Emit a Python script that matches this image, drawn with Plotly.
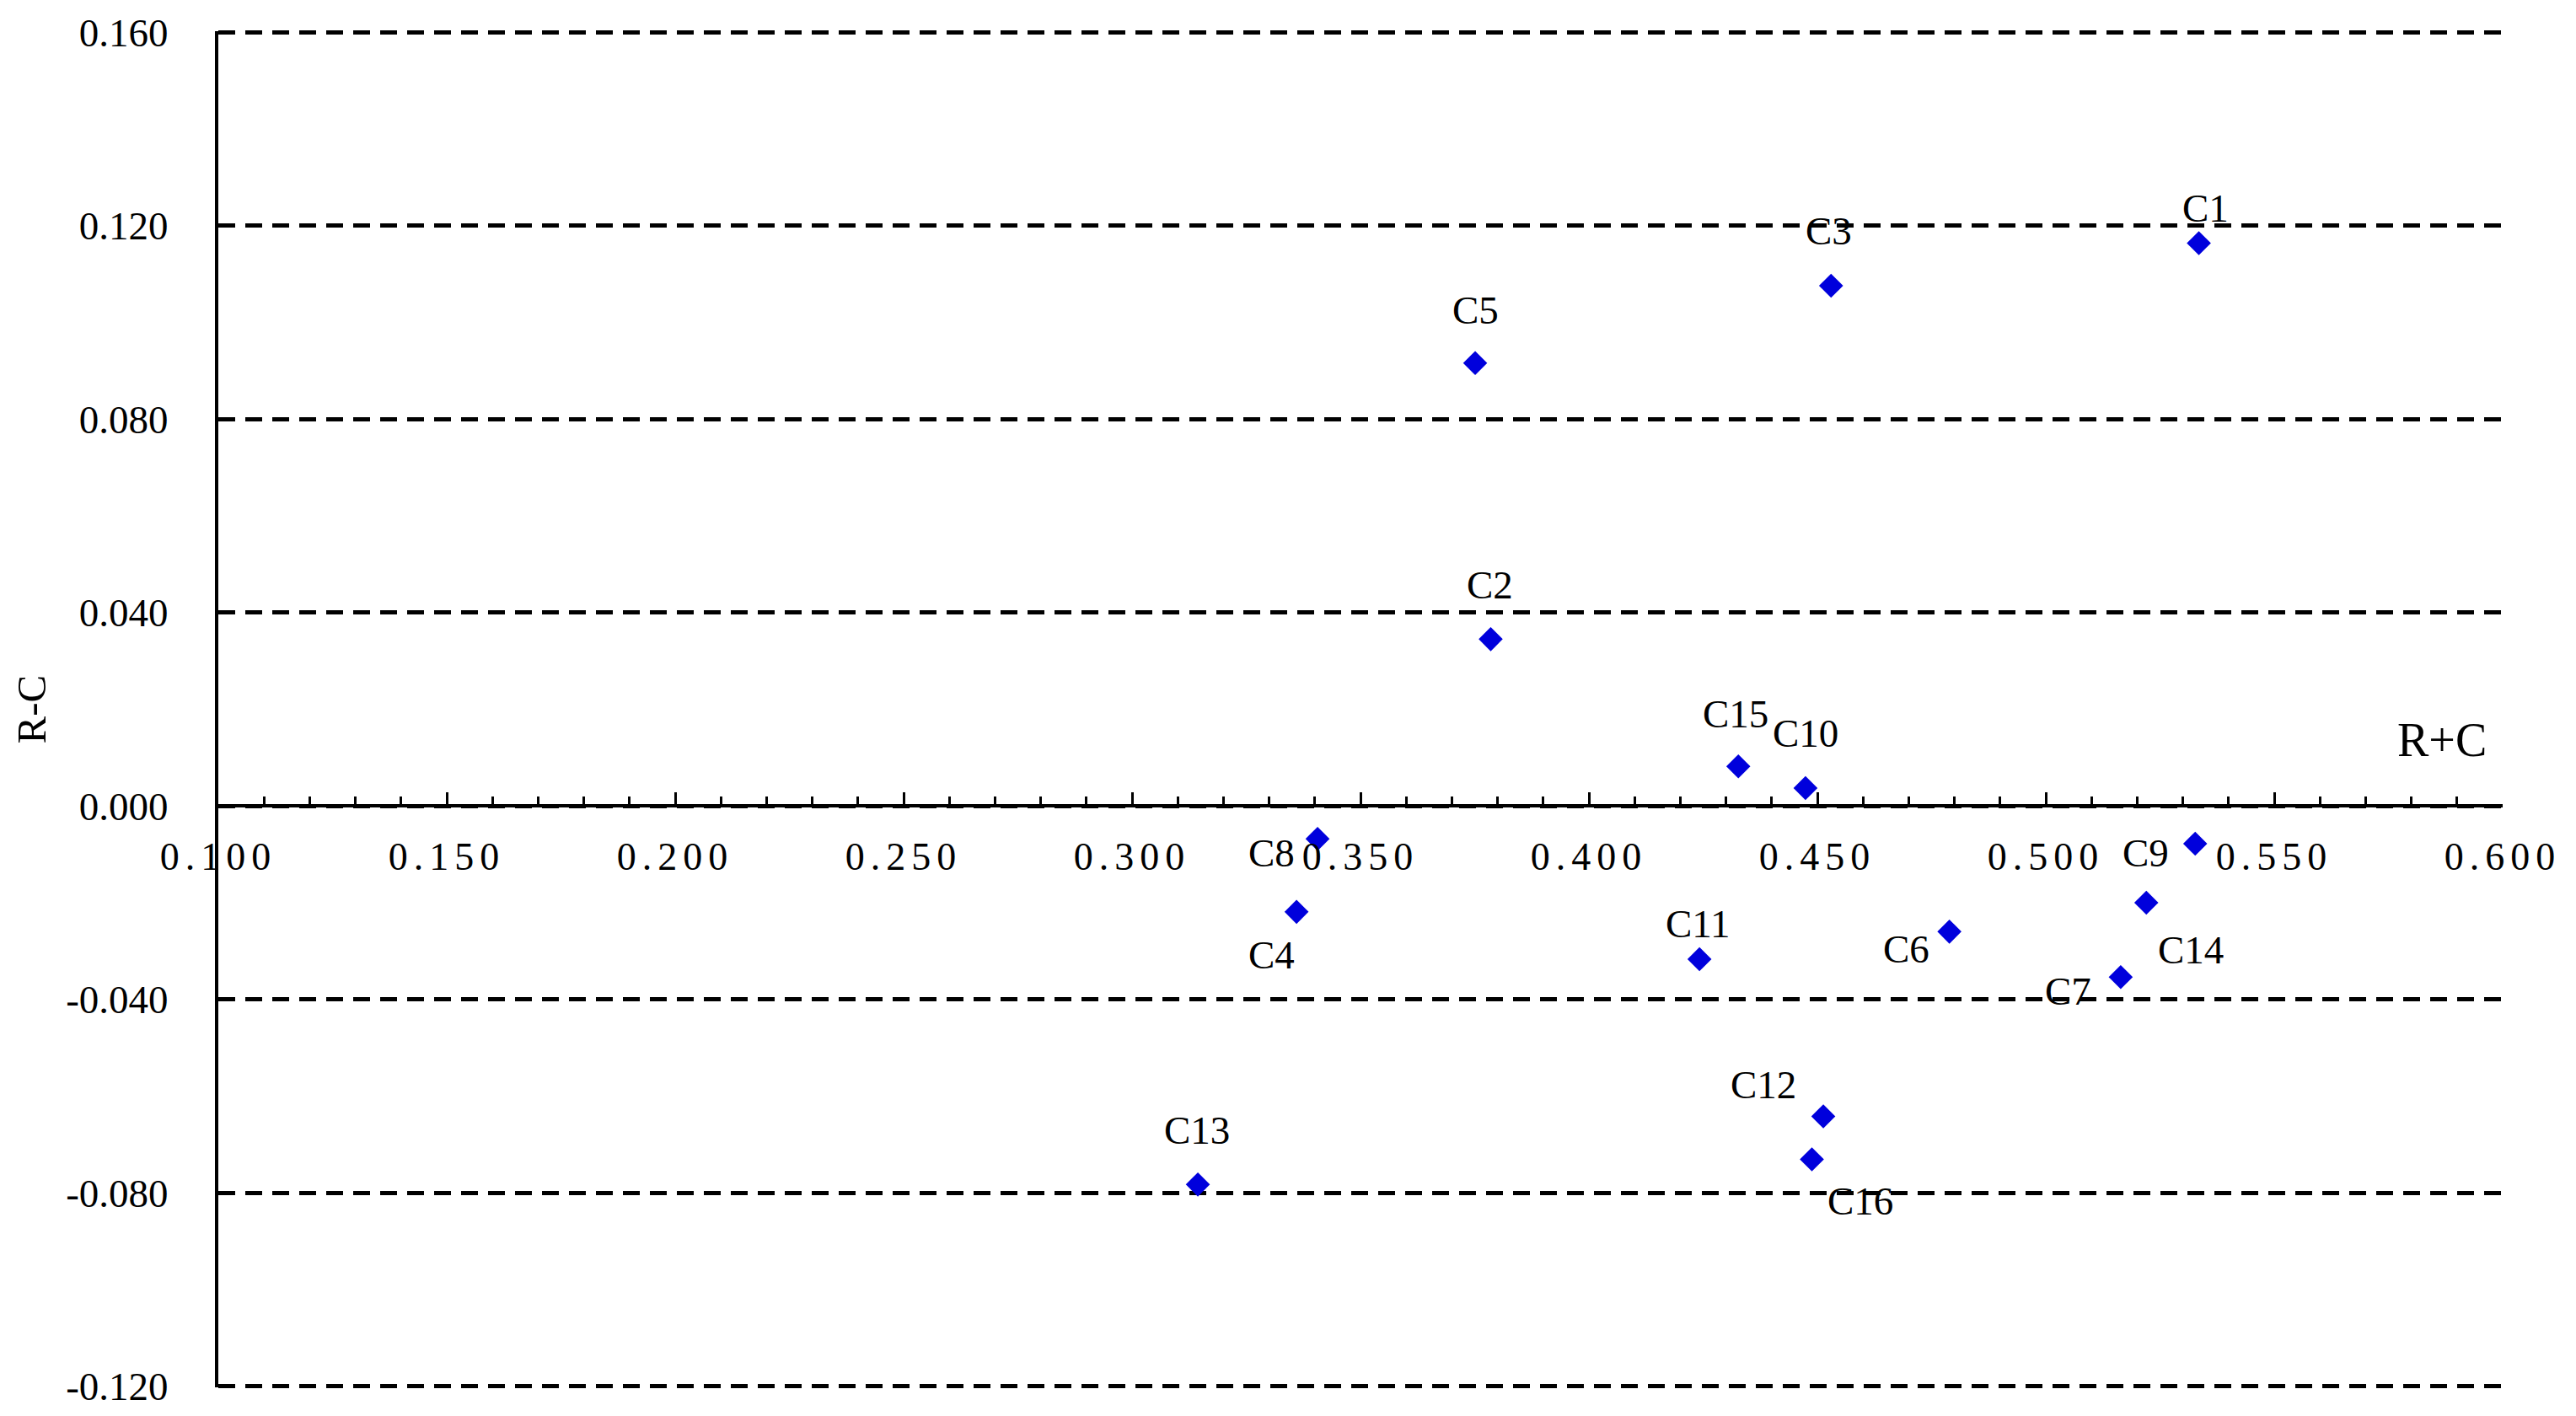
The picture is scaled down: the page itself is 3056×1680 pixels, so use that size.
import plotly.graph_objects as go

# ---- data ----
labels = ["C1", "C2", "C3", "C4", "C5", "C6", "C7", "C8",
          "C9", "C10", "C11", "C12", "C13", "C14", "C15", "C16"]
r_plus_c = [0.5335, 0.3785, 0.4530, 0.3360, 0.3751, 0.4789, 0.5164, 0.3406,
            0.5327, 0.4474, 0.4242, 0.4513, 0.3144, 0.5220, 0.4327, 0.4488]
r_minus_c = [0.1164, 0.0345, 0.1076, -0.0219, 0.0916, -0.0260, -0.0354, -0.0068,
             -0.0078, 0.0037, -0.0317, -0.0642, -0.0783, -0.0200, 0.0082, -0.0731]

x_tick_vals = [0.10, 0.15, 0.20, 0.25, 0.30, 0.35, 0.40, 0.45, 0.50, 0.55, 0.60]
x_tick_labels = ["0.100", "0.150", "0.200", "0.250", "0.300", "0.350",
                 "0.400", "0.450", "0.500", "0.550", "0.600"]
y_tick_vals = [-0.12, -0.08, -0.04, 0.0, 0.04, 0.08, 0.12, 0.16]
y_tick_labels = ["-0.120", "-0.080", "-0.040", "0.000", "0.040", "0.080", "0.120", "0.160"]

# label placement (pixel offsets of each data label from its point)
label_dx = [8, -1, -3, -30, 0, -51, -62, -55, -59, 0, -2, -71, -1, 53, -3, 57]
label_dy = [-42, -64, -65, 51, -63, 21, 17, 17, 11, -65, -42, -37, -64, 56, -62, 49]

FONT = "Liberation Serif, Times New Roman, serif"

Y_MIN, Y_MAX = -0.12, 0.16
PAD = 0.00025  # tiny pad so the edge grid lines are drawn

fig = go.Figure()
fig.add_trace(go.Scatter(
    x=r_plus_c, y=r_minus_c, mode="markers",
    marker=dict(symbol="diamond", size=22, color="#0000DC", line=dict(width=0)),
    hoverinfo="skip", showlegend=False,
))

for lab, xv, yv, dx, dy in zip(labels, r_plus_c, r_minus_c, label_dx, label_dy):
    fig.add_annotation(x=xv, y=yv, xref="x", yref="y", text=lab, showarrow=False,
                       xshift=dx, yshift=-dy, xanchor="center", yanchor="middle",
                       font=dict(family=FONT, size=47, color="black"))

fig.add_annotation(x=0.9734, y=0.4773, xref="paper", yref="paper", text="R+C",
                   showarrow=False, xanchor="center", yanchor="middle",
                   font=dict(family=FONT, size=56, color="black"))
fig.add_annotation(x=-0.0819, y=0.5, xref="paper", yref="paper", text="R-C",
                   showarrow=False, textangle=-90, xanchor="center", yanchor="middle",
                   font=dict(family=FONT, size=49, color="black"))

x_tick_text = ['<span style="letter-spacing:7px">%s</span>' % t for t in x_tick_labels]

fig.update_layout(
    width=3048, height=1672,
    margin=dict(l=251, r=87, t=29, b=34, autoexpand=False),
    paper_bgcolor="white", plot_bgcolor="white",
    font=dict(family=FONT, color="black"),
    xaxis=dict(
        range=[0.1, 0.6], anchor="free",
        position=(0 - (Y_MIN - PAD)) / ((Y_MAX + PAD) - (Y_MIN - PAD)),
        showline=True, linecolor="black", linewidth=4,
        ticks="inside", ticklen=14, tickwidth=3, tickcolor="black",
        tickmode="array", tickvals=x_tick_vals, ticktext=x_tick_text,
        tickfont=dict(family=FONT, size=46, color="black"),
        ticklabelstandoff=19, automargin=False,
        minor=dict(dtick=0.01, tick0=0.1, ticks="inside", ticklen=9,
                   tickwidth=3, tickcolor="black", showgrid=False),
        showgrid=False, zeroline=False,
    ),
    yaxis=dict(
        range=[Y_MIN - PAD, Y_MAX + PAD], automargin=False,
        showline=True, linecolor="black", linewidth=4,
        ticks="", tickmode="array", tickvals=y_tick_vals, ticktext=y_tick_labels,
        tickfont=dict(family=FONT, size=47, color="black"),
        ticklabelstandoff=46,
        showgrid=True, gridcolor="black", gridwidth=5, griddash="20px,12px",
        zeroline=False,
    ),
)

fig.write_html("out.html")
